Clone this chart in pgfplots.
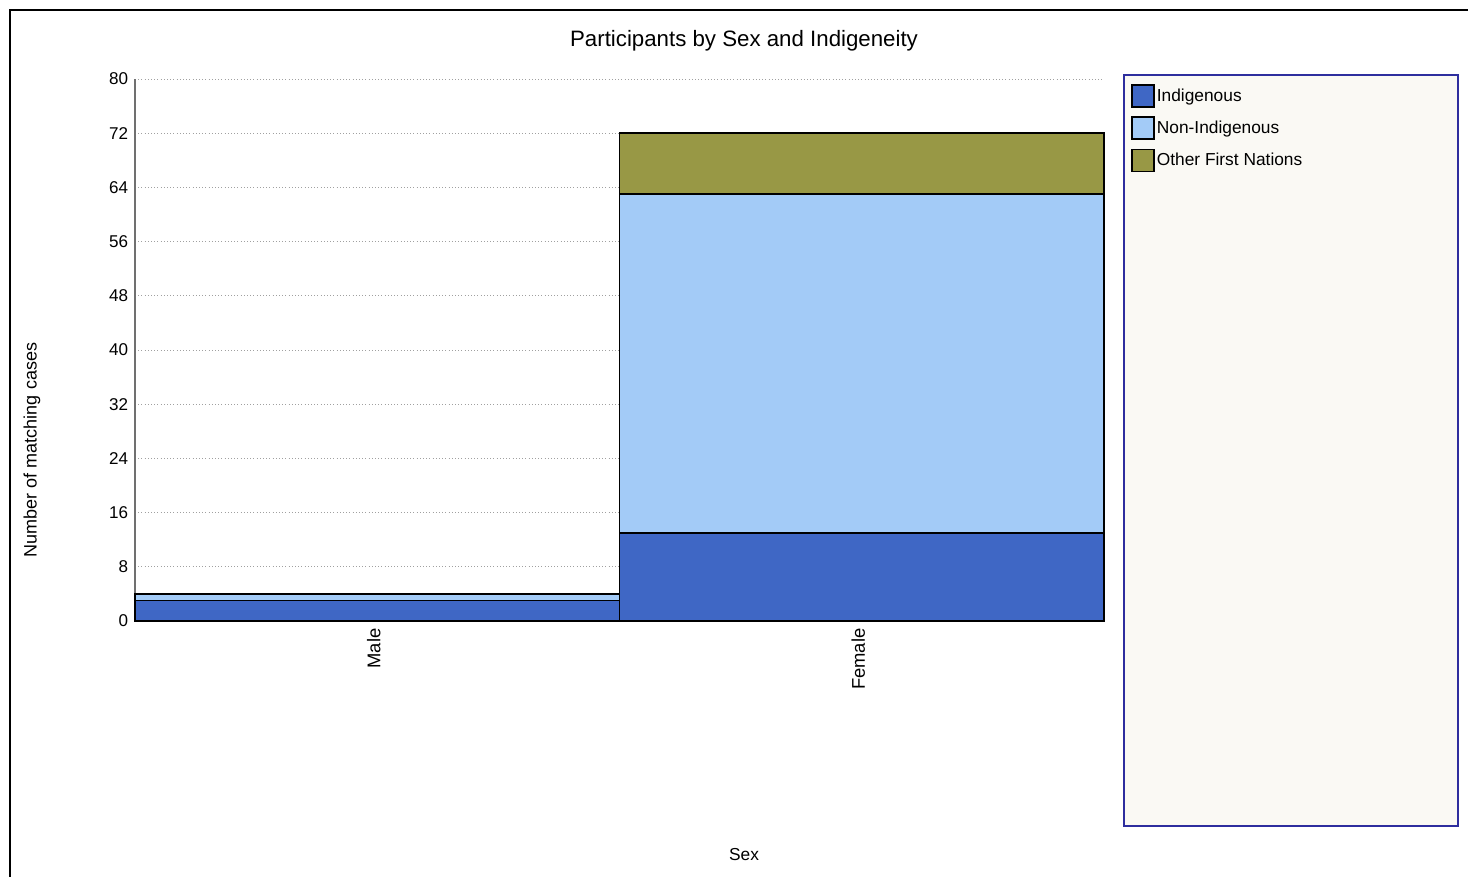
\documentclass[border=0pt]{standalone}
\usepackage{pgfplots}
\pgfplotsset{compat=1.18}
\usepackage{fontspec}
\setmainfont{Liberation Sans}
\definecolor{indig}{HTML}{3F67C5}
\definecolor{nonind}{HTML}{A3CBF7}
\definecolor{otherfn}{HTML}{989845}
\definecolor{legborder}{HTML}{2E2E9E}
\definecolor{legfill}{HTML}{FAF9F4}
\definecolor{gridc}{HTML}{A0A0A0}
\definecolor{axisc}{HTML}{707070}
\pgfplotsset{mylegend/.style={legend image code/.code={\draw[##1,draw=black,line width=1.2pt] (0pt,-8.25pt) rectangle (16.5pt,8.25pt);}}}
\begin{document}
\begin{tikzpicture}
\path[use as bounding box] (0,0) rectangle (1101pt,657.75pt);
\draw[black,line width=0.8pt] (7.5pt,0pt) -- (7.5pt,650.25pt) -- (1101pt,650.25pt);
\draw[legborder,fill=legfill,line width=1.5pt] (843pt,38.25pt) rectangle (1093.5pt,601.5pt);
\begin{axis}[
  at={(101.25pt,192pt)}, anchor=south west,
  scale only axis, width=726.75pt, height=406.5pt,
  clip=false,
  ybar stacked, bar width=1, bar shift=0pt,
  xmin=-0.5, xmax=1.5, ymin=0, ymax=80,
  xtick={0,1}, xticklabels={Male,Female},
  ytick={0,8,...,80},
  major tick length=0pt,
  ymajorgrids, grid style={gridc, dotted, line width=0.6pt},
  axis x line*=bottom, axis y line*=left,
  x axis line style={draw=none},
  y axis line style={axisc, line width=1.5pt, -},
  /pgf/number format/assume math mode=true,
  tick label style={font=\fontsize{12.8}{15}\selectfont},
  yticklabel style={inner sep=0pt, anchor=east, xshift=-5pt},
  xticklabel style={font=\fontsize{13.8}{16}\selectfont, inner sep=0pt, rotate=90, anchor=east, xshift=-5.5pt, yshift=2.5pt},
  title={Participants by Sex and Indigeneity},
  title style={font=\fontsize{16.7}{20}\selectfont, at={(rel axis cs:0.6285,1.0553)}, anchor=center, yshift=0pt},
  xlabel={Sex},
  xlabel style={font=\fontsize{13}{15}\selectfont, at={(rel axis cs:0.6285,-0.4317)}, anchor=center},
  ylabel={Number of matching cases},
  ylabel style={font=\fontsize{13.5}{16}\selectfont, at={(rel axis cs:-0.1063,0.3155)}, anchor=center, rotate=0},
  every axis plot post/.append style={mylegend},
  legend cell align=left,
  legend style={at={(rel axis cs:1.02786,0.9908)}, anchor=north west, draw=none, fill=none,
    font=\fontsize{13}{15}\selectfont, inner sep=0pt, row sep=6.4pt, column sep=1.5pt,
    nodes={inner sep=0pt}},
]
\addplot[fill=indig, draw=black, line width=1.2pt, mylegend] coordinates {(0,3) (1,13)};
\addlegendentry{Indigenous}
\addplot[fill=nonind, draw=black, line width=1.2pt, mylegend] coordinates {(0,1) (1,50)};
\addlegendentry{Non-Indigenous}
\addplot[fill=otherfn, draw=black, line width=1.2pt, mylegend] coordinates {(0,0) (1,9)};
\addlegendentry{Other First Nations}
\end{axis}
\end{tikzpicture}
\end{document}
